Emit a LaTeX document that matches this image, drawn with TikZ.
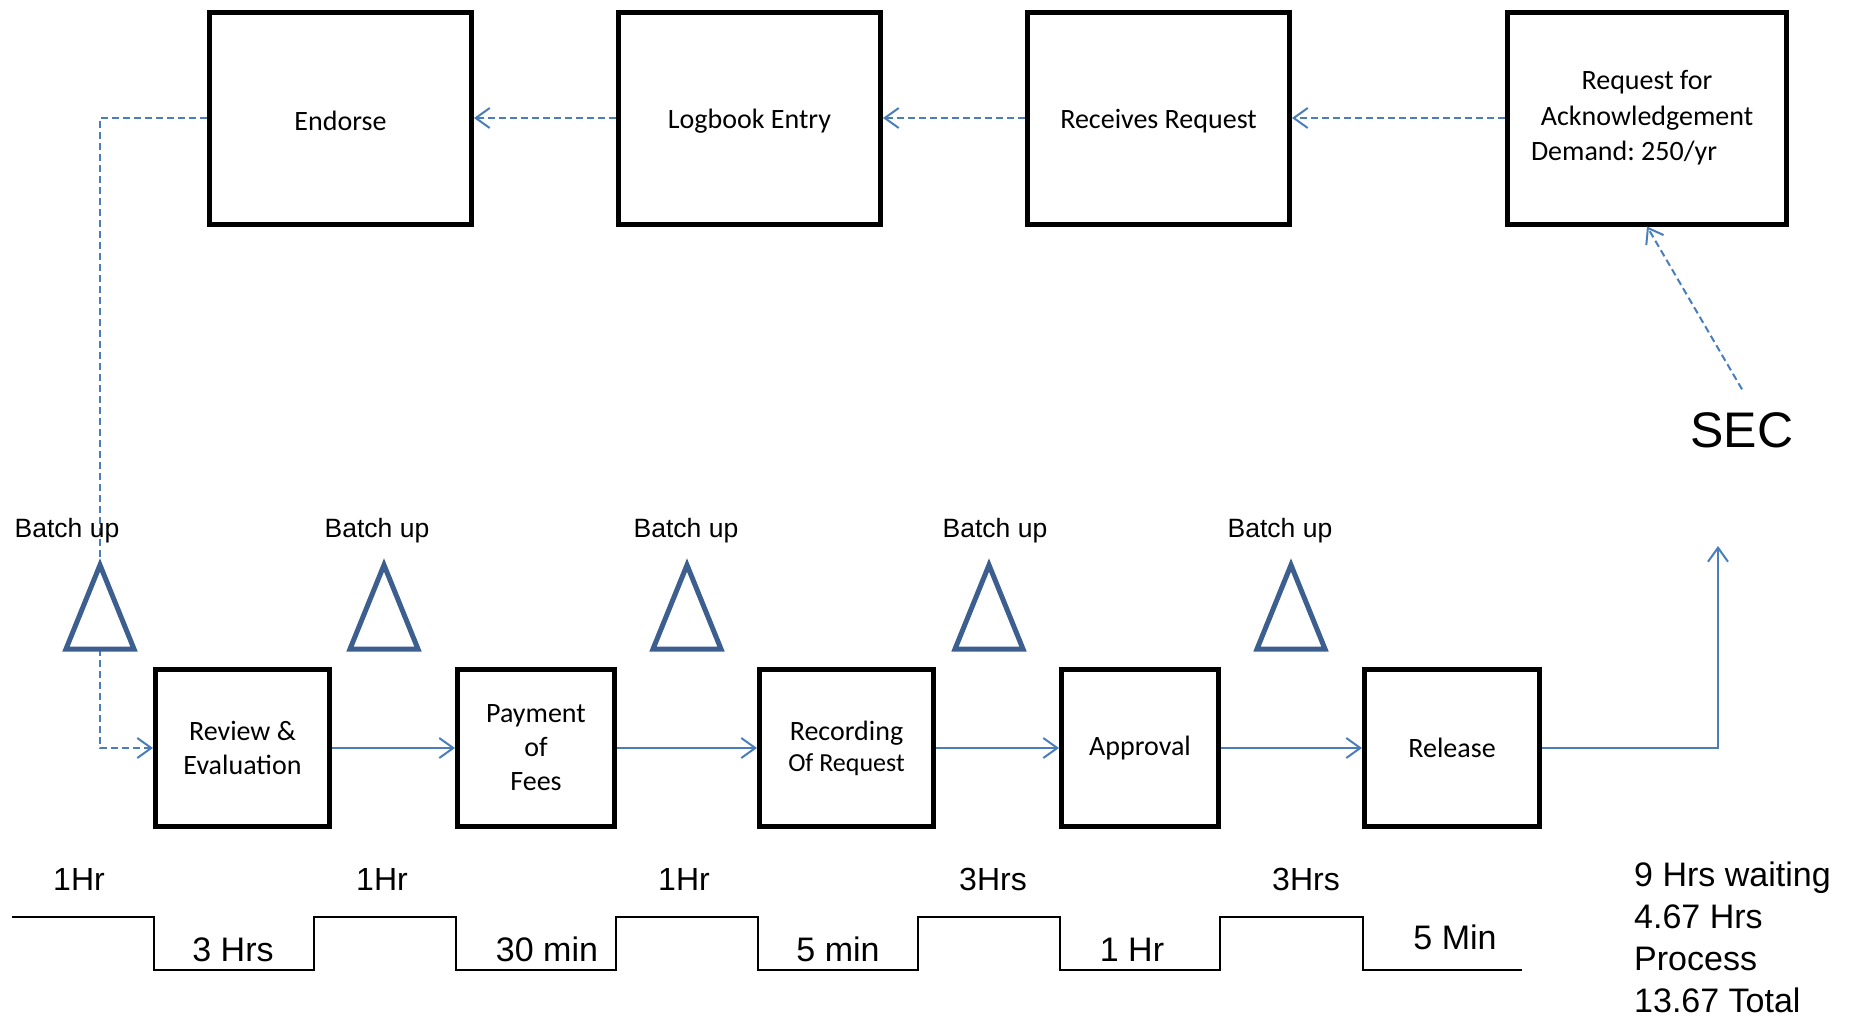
\documentclass[tikz,border=0pt]{standalone}
\usepackage{fontspec}
\setmainfont{Liberation Sans}
\newfontfamily\boxfont{Carlito}
\usetikzlibrary{arrows.meta}
\definecolor{flowblue}{HTML}{4A7EBB}
\definecolor{triblue}{HTML}{3C5F8F}
\frenchspacing

\begin{document}
\begin{tikzpicture}[x=1pt,y=-1pt,
  box/.style={draw=black,line width=5pt,fill=white,inner sep=0pt,align=center,
    font=\boxfont\fontsize{28}{34}\selectfont},
  topbox/.style={box,minimum width=262pt,minimum height=212pt,
    font=\boxfont\fontsize{28}{35.5}\selectfont,
    execute at begin node={\rule{0pt}{25pt}}},
  lowbox/.style={box,minimum height=157pt},
  tip/.style={-{Straight Barb[length=14pt,width=20pt]}},
  flow/.style={tip,draw=flowblue,line width=2pt},
  dashflow/.style={flow,dash pattern=on 7pt off 4pt},
  batch/.style={draw=triblue,fill=white,line width=5pt},
  batchlabel/.style={anchor=base,inner sep=0pt,font=\fontsize{26.5}{30}\selectfont},
  waitlabel/.style={anchor=base,inner sep=0pt,font=\fontsize{32}{38}\selectfont},
  proclabel/.style={anchor=base,inner sep=0pt,font=\fontsize{34}{40}\selectfont},
  timeline/.style={draw=black,line width=2.2pt}]

% canvas
\useasboundingbox (0,0) rectangle (1853,1018);

% information flow (top row)
\node[topbox] (endorse) at (340.5,118) {Endorse};
\node[topbox] (logbook) at (749.5,118) {Logbook Entry};
\node[topbox] (receives) at (1158.5,118) {Receives Request};
\node[topbox,minimum width=279pt] (ack) at (1647,118)
  {Request for\\Acknowledgement\\Demand: 250/yr\hspace*{46pt}};

\draw[dashflow] (ack.west) -- (receives.east);
\draw[dashflow] (receives.west) -- (logbook.east);
\draw[dashflow] (logbook.west) -- (endorse.east);

% customer
\node[inner sep=0pt,outer sep=0pt,font=\fontsize{50}{60}\selectfont] (sec) at (1742,430) {SEC};
\draw[dashflow] ([yshift=23pt]sec.north) -- (ack.south);

% process steps (bottom row)
\node[lowbox,minimum width=174pt] (review) at (242.5,748) {Review \&\\Evaluation};
\node[lowbox,minimum width=157pt] (payment) at (536,748) {Payment\\of\\Fees};
\node[lowbox,minimum width=174pt,font=\boxfont\fontsize{28}{31}\selectfont] (recording) at (846.5,748)
  {Recording\\{\fontsize{26}{31}\selectfont Of Request}};
\node[lowbox,minimum width=157pt] (approval) at (1140,748) {Approval};
\node[lowbox,minimum width=175pt] (release) at (1452,748) {Release};

\draw[flow] (review.east) -- (payment.west);
\draw[flow] (payment.east) -- (recording.west);
\draw[flow] (recording.east) -- (approval.west);
\draw[flow] (approval.east) -- (release.west);

\coordinate (delivery) at (1718,546);
\draw[flow] (release.east) -| (delivery);

% feedback from Endorse into the first step
\coordinate (fbturn) at (100,748);
\draw[dashflow] (endorse.west) -| (fbturn) -- (review.west);

% inventory triangles
\foreach \x in {100,384,687,989,1291}
  \draw[batch] (\x,565) -- (\x+34,649) -- (\x-34,649) -- cycle;

\node[batchlabel] (b1) at (67,537) {Batch up};
\node[batchlabel] (b2) at (377,537) {Batch up};
\node[batchlabel] (b3) at (686,537) {Batch up};
\node[batchlabel] (b4) at (995,537) {Batch up};
\node[batchlabel] (b5) at (1280,537) {Batch up};

% timeline ladder
\draw[timeline] (12,917) -- (154,917) -- (154,970) -- (314,970) -- (314,917)
  -- (456,917) -- (456,970) -- (616,970) -- (616,917)
  -- (758,917) -- (758,970) -- (918,970) -- (918,917)
  -- (1060,917) -- (1060,970) -- (1220,970) -- (1220,917)
  -- (1363,917) -- (1363,970) -- (1522,970);

\node[waitlabel] (w1) at (79,890) {1Hr};
\node[waitlabel] (w2) at (382,890) {1Hr};
\node[waitlabel] (w3) at (684,890) {1Hr};
\node[waitlabel] (w4) at (993,890) {3Hrs};
\node[waitlabel] (w5) at (1306,890) {3Hrs};

\node[proclabel] (p1) at (233,961) {3 Hrs};
\node[proclabel] (p2) at (547,961) {30 min};
\node[proclabel] (p3) at (838,961) {5 min};
\node[proclabel] (p4) at (1132,961) {1 Hr};
\node[proclabel] (p5) at (1455,949) {5 Min};

\node[anchor=north west,align=left,inner sep=0pt,font=\fontsize{34}{42}\selectfont] (summary)
  at (1634,862) {9 Hrs waiting\\4.67 Hrs\\Process\\13.67 Total};
\end{tikzpicture}
\end{document}
